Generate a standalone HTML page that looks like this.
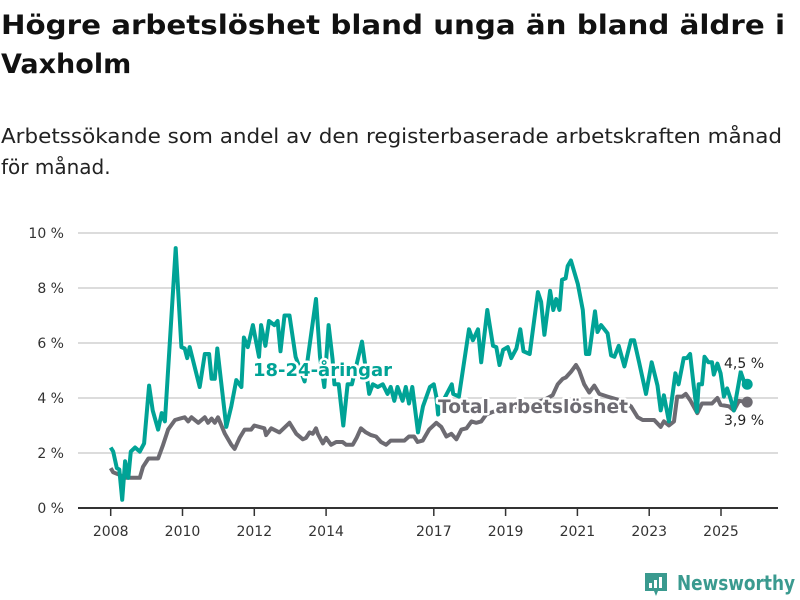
<!DOCTYPE html>
<html><head><meta charset="utf-8"><style>
html,body{margin:0;padding:0;background:#fff;}
svg{display:block;font-family:"DejaVu Sans","Liberation Sans",sans-serif;}
.halo{paint-order:stroke;stroke:#fff;stroke-width:5px;stroke-linejoin:round;}
</style></head><body>
<svg id="chart" width="800" height="600" viewBox="0 0 800 600">
<text x="1" y="34" font-size="27" font-weight="bold" fill="#111" textLength="784" lengthAdjust="spacingAndGlyphs">Högre arbetslöshet bland unga än bland äldre i</text>
<text x="1" y="73" font-size="27" font-weight="bold" fill="#111">Vaxholm</text>
<text x="1" y="143" font-size="20" fill="#222" textLength="781" lengthAdjust="spacingAndGlyphs">Arbetssökande som andel av den registerbaserade arbetskraften månad</text>
<text x="1" y="174" font-size="20" fill="#222">för månad.</text>
<g id="grid"></g><g id="xaxis"></g><g id="lines"></g><g id="labels"></g>
<g>
<path d="M645 573 h22 v18 h-9 l-2 5 l-2 -5 h-9 z" fill="#3a9a8f"/>
<rect x="649" y="583" width="3" height="5" fill="#fff"/><rect x="654" y="580" width="3" height="8" fill="#fff"/><rect x="659" y="577" width="3" height="11" fill="#fff"/>
<text x="677" y="590" font-size="20" font-weight="bold" fill="#3a9a8f" textLength="118" lengthAdjust="spacingAndGlyphs">Newsworthy</text>
</g>
</svg>
<script>
const yTicks=[0,2,4,6,8,10];
const yTickLabels=["0 %","2 %","4 %","6 %","8 %","10 %"];
const xTicks=[2008,2010,2012,2014,2017,2019,2021,2023,2025];
const youthT=[2008.0,2008.07,2008.17,2008.24,2008.32,2008.4,2008.49,2008.56,2008.68,2008.81,2008.93,2009.07,2009.17,2009.32,2009.42,2009.51,2009.81,2009.97,2010.06,2010.13,2010.2,2010.48,2010.62,2010.74,2010.81,2010.9,2010.97,2011.22,2011.36,2011.5,2011.64,2011.71,2011.82,2011.96,2012.13,2012.19,2012.31,2012.41,2012.56,2012.65,2012.73,2012.84,2012.98,2013.15,2013.4,2013.72,2013.83,2013.95,2014.07,2014.18,2014.23,2014.35,2014.48,2014.6,2014.72,2015.0,2015.2,2015.3,2015.44,2015.58,2015.71,2015.8,2015.9,2015.99,2016.13,2016.22,2016.31,2016.4,2016.56,2016.7,2016.89,2017.0,2017.07,2017.12,2017.3,2017.5,2017.54,2017.7,2017.98,2018.09,2018.23,2018.32,2018.49,2018.65,2018.74,2018.83,2018.93,2019.06,2019.16,2019.3,2019.41,2019.5,2019.67,2019.9,2019.99,2020.08,2020.24,2020.33,2020.41,2020.5,2020.57,2020.67,2020.73,2020.82,2021.01,2021.15,2021.24,2021.33,2021.49,2021.56,2021.66,2021.84,2021.94,2022.03,2022.15,2022.31,2022.49,2022.58,2022.72,2022.91,2023.07,2023.23,2023.32,2023.41,2023.55,2023.73,2023.82,2023.96,2024.05,2024.14,2024.24,2024.33,2024.38,2024.47,2024.54,2024.65,2024.75,2024.8,2024.9,2024.99,2025.08,2025.17,2025.26,2025.36,2025.55,2025.64,2025.73];
const youthV=[2.2,2.05,1.45,1.4,0.3,1.7,1.1,2.05,2.2,2.05,2.35,4.45,3.55,2.85,3.45,3.15,9.45,5.85,5.8,5.45,5.85,4.4,5.6,5.6,4.7,4.7,5.8,2.95,3.7,4.65,4.4,6.2,5.85,6.65,5.5,6.65,5.9,6.8,6.65,6.8,5.7,7.0,7.0,5.5,4.6,7.6,5.5,4.4,6.65,5.4,4.5,4.5,3.0,4.5,4.5,6.05,4.15,4.5,4.4,4.5,4.15,4.4,3.9,4.4,3.9,4.4,3.8,4.4,2.75,3.7,4.4,4.5,4.05,3.4,4.0,4.5,4.15,4.05,6.5,6.1,6.5,5.3,7.2,5.9,5.85,5.2,5.75,5.85,5.45,5.8,6.5,5.7,5.6,7.85,7.5,6.3,7.9,7.2,7.6,7.2,8.3,8.35,8.8,9.0,8.15,7.2,5.6,5.6,7.15,6.4,6.65,6.35,5.55,5.5,5.9,5.15,6.1,6.1,5.3,4.15,5.3,4.45,3.55,4.1,3.15,4.9,4.5,5.45,5.45,5.6,4.45,3.5,4.5,4.5,5.5,5.3,5.3,4.85,5.25,4.9,4.05,4.35,4.0,3.55,4.95,4.6,4.5];
const totalT=[2008.0,2008.07,2008.26,2008.4,2008.81,2008.9,2009.05,2009.32,2009.46,2009.6,2009.79,2009.93,2010.06,2010.16,2010.25,2010.44,2010.62,2010.71,2010.81,2010.9,2010.99,2011.18,2011.36,2011.45,2011.59,2011.73,2011.91,2012.0,2012.28,2012.33,2012.47,2012.7,2012.98,2013.17,2013.35,2013.44,2013.54,2013.63,2013.72,2013.77,2013.91,2014.0,2014.14,2014.28,2014.46,2014.56,2014.74,2014.85,2014.97,2015.11,2015.25,2015.39,2015.53,2015.67,2015.8,2015.99,2016.18,2016.31,2016.45,2016.55,2016.69,2016.87,2017.07,2017.21,2017.35,2017.49,2017.63,2017.77,2017.91,2018.05,2018.18,2018.32,2018.46,2018.65,2019.0,2019.4,2019.8,2020.1,2020.31,2020.45,2020.59,2020.68,2020.82,2020.96,2021.05,2021.19,2021.33,2021.47,2021.61,2021.84,2022.1,2022.3,2022.49,2022.68,2022.82,2023.14,2023.32,2023.41,2023.55,2023.69,2023.78,2023.92,2024.02,2024.15,2024.34,2024.47,2024.75,2024.9,2024.99,2025.22,2025.36,2025.5,2025.73];
const totalV=[1.45,1.3,1.2,1.1,1.1,1.5,1.8,1.8,2.3,2.85,3.2,3.25,3.3,3.15,3.3,3.1,3.3,3.1,3.25,3.1,3.3,2.7,2.3,2.15,2.55,2.85,2.85,3.0,2.9,2.65,2.9,2.75,3.1,2.7,2.5,2.55,2.75,2.7,2.9,2.7,2.35,2.55,2.3,2.4,2.4,2.3,2.3,2.55,2.9,2.75,2.65,2.6,2.4,2.3,2.45,2.45,2.45,2.6,2.6,2.4,2.45,2.85,3.1,2.95,2.6,2.7,2.5,2.85,2.9,3.15,3.1,3.15,3.4,3.5,3.6,3.7,3.8,3.95,4.1,4.5,4.7,4.75,4.95,5.2,5.0,4.5,4.2,4.45,4.15,4.05,3.95,3.85,3.7,3.3,3.2,3.2,2.95,3.15,3.0,3.15,4.05,4.05,4.15,3.9,3.45,3.8,3.8,4.0,3.75,3.7,3.55,3.9,3.85];

const NS="http://www.w3.org/2000/svg";
const X=t=>110.7+(t-2008)*35.9;
const Y=v=>508-v*27.5;
function mk(tag,attrs,parent,txt){const e=document.createElementNS(NS,tag);for(const k in attrs)e.setAttribute(k,attrs[k]);if(txt!==undefined)e.textContent=txt;parent.appendChild(e);return e;}
const grid=document.getElementById('grid');
yTicks.forEach((v,i)=>{
  if(v>0){const l=mk('line',{x1:78,x2:778,y1:Y(v),y2:Y(v),stroke:'#dcdcdc','stroke-width':2},grid);
  
  }
  const t=mk('text',{x:64,y:Y(v)+5,'font-size':14,fill:'#333','text-anchor':'end'},grid,yTickLabels[i]);
  
  
});
const xa=document.getElementById('xaxis');
const ax=mk('line',{x1:78,x2:778,y1:508,y2:508,stroke:'#333','stroke-width':2},xa);


xTicks.forEach(t=>{
  const tk=mk('line',{x1:X(t),x2:X(t),y1:508,y2:516,stroke:'#333','stroke-width':1.5},xa);
  
  
  const lb=mk('text',{x:X(t),y:536,'font-size':14,fill:'#333','text-anchor':'middle'},xa,String(t));
  
  
});
const lines=document.getElementById('lines');
function path(T,V){return T.map((t,i)=>(i?'L':'M')+X(t).toFixed(1)+' '+Y(V[i]).toFixed(1)).join(' ');}
const gl=mk('path',{d:path(totalT,totalV),fill:'none',stroke:'#6d6b72','stroke-width':4,'stroke-linejoin':'round'},lines);


const yl=mk('path',{d:path(youthT,youthV),fill:'none',stroke:'#00a396','stroke-width':4,'stroke-linejoin':'round'},lines);


const yd=mk('circle',{cx:X(youthT[youthT.length-1]),cy:Y(youthV[youthV.length-1]),r:5.5,fill:'#00a396'},lines);


const td=mk('circle',{cx:X(totalT[totalT.length-1]),cy:Y(totalV[totalV.length-1]),r:5.5,fill:'#6d6b72'},lines);


const lab=document.getElementById('labels');
const l1=mk('text',{x:253,y:376,'font-size':18,'font-weight':'bold',fill:'#00a396',class:'halo',textLength:139,lengthAdjust:'spacingAndGlyphs'},lab,'18-24-åringar');


const l2=mk('text',{x:438,y:413,'font-size':19,'font-weight':'bold',fill:'#6d6b72',class:'halo',textLength:190,lengthAdjust:'spacingAndGlyphs'},lab,'Total arbetslöshet');


const v1=mk('text',{x:724,y:368,'font-size':14,fill:'#222',class:'halo'},lab,'4,5 %');


const v2=mk('text',{x:724,y:425,'font-size':14,fill:'#222',class:'halo'},lab,'3,9 %');


</script>
</body></html>
